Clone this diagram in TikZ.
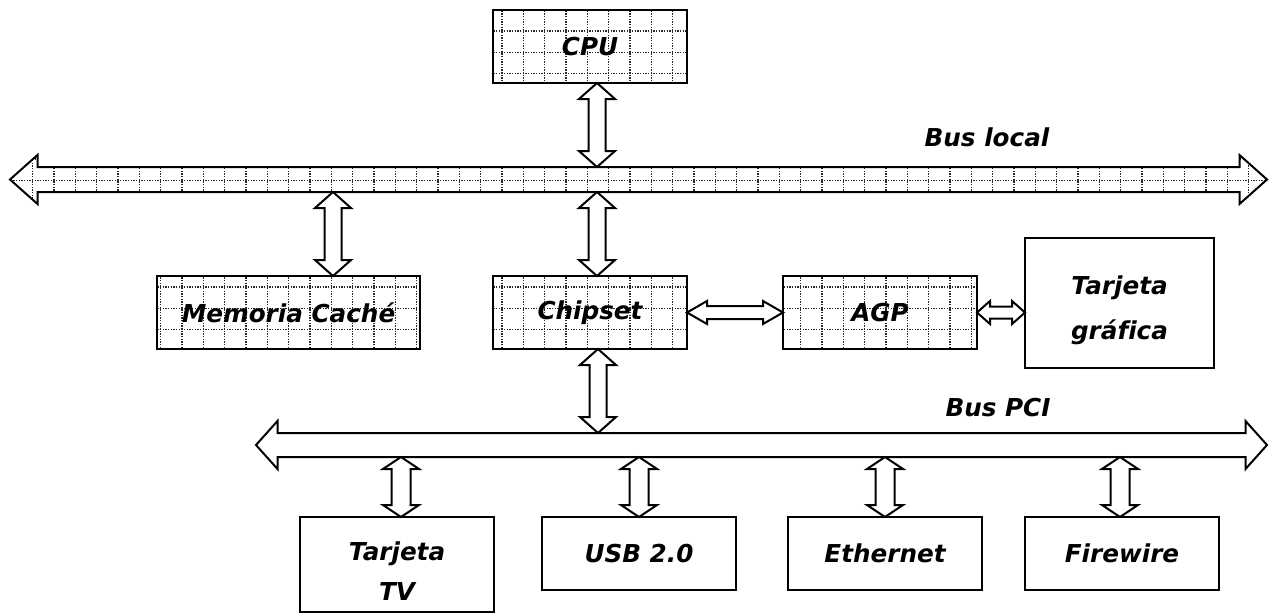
\documentclass[tikz,border=0pt]{standalone}
\usepackage{fontspec}
\setmainfont{DejaVu Sans}[Ligatures=NoCommon]
\usetikzlibrary{calc}
\pgfdeclarelayer{background}
\pgfsetlayers{background,main}

% horizontal block arrow with heads at both ends:
% #1 path command, #2 left tip, #3 right tip, #4 head half-width, #5 shaft half-width, #6 head length
\newcommand\hdarrow[6]{#1 (#2) -- ($(#2)+(#6,-#4)$) -- ($(#2)+(#6,-#5)$) -- ($(#3)+(-#6,-#5)$)
  -- ($(#3)+(-#6,-#4)$) -- (#3) -- ($(#3)+(-#6,#4)$) -- ($(#3)+(-#6,#5)$)
  -- ($(#2)+(#6,#5)$) -- ($(#2)+(#6,#4)$) -- cycle;}
% vertical block arrow with heads at both ends: #2 top tip, #3 bottom tip
\newcommand\vdarrow[6]{#1 (#2) -- ($(#2)+(#4,#6)$) -- ($(#2)+(#5,#6)$) -- ($(#3)+(#5,-#6)$)
  -- ($(#3)+(#4,-#6)$) -- (#3) -- ($(#3)+(-#4,-#6)$) -- ($(#3)+(-#5,-#6)$)
  -- ($(#2)+(-#5,#6)$) -- ($(#2)+(-#4,#6)$) -- cycle;}
% dotted grid fill pattern, anchored to the whole page
\newcommand\dotgrid{%
  \foreach \i in {0,...,59}{\draw[gridline] ({11.4+21.3333*\i},0) -- ({11.4+21.3333*\i},614);}%
  \foreach \j in {0,...,28}{\draw[gridline] (0,{9.7+21.3333*\j}) -- (1269,{9.7+21.3333*\j});}}

\begin{document}
\begin{tikzpicture}[x=0.75pt,y=-0.75pt,
  box/.style={draw, line width=1.5pt, inner sep=0pt, outer sep=0pt, align=center,
    minimum width=145.5pt, minimum height=54.75pt,
    font=\fontsize{18.5}{30}\selectfont\bfseries\itshape},
  lbl/.style={inner sep=0pt, font=\fontsize{18.5}{22}\selectfont\bfseries\itshape},
  blk/.style={draw, fill=white, line width=1.5pt, line join=miter},
  busline/.style={draw, line width=1.5pt, line join=miter},
  gridline/.style={draw=black!85, line width=0.9pt, dash pattern=on 0.9pt off 1.1pt}]

\useasboundingbox (0,0) rectangle (1269,614);

% components
\node[box] (cpu) at (590,46.5) {CPU};
\node[box, minimum width=197.25pt] (cache) at (288.5,312.5) {Memoria Caché};
\node[box] (chip) at (590,312.5) {Chipset};
\node[box] (agp) at (880,312.5) {AGP};
\node[box, minimum width=141.75pt, minimum height=97.5pt, text height=54.5pt, text depth=0pt,
  font=\fontsize{18.5}{33.75}\selectfont\bfseries\itshape] (tg) at (1119.5,303) {Tarjeta\\gráfica};
\node[box, minimum height=71.25pt, text height=54pt, text depth=0pt] (tv) at (397,564.5) {Tarjeta\\TV};
\node[box] (usb) at (639,553.5) {USB 2.0};
\node[box] (eth) at (885,553.5) {Ethernet};
\node[box] (fw) at (1122,553.5) {Firewire};

% bus labels
\node[lbl] (buslocal) at (987,137) {Bus local};
\node[lbl] (buspci) at (998,408) {Bus PCI};

% bus end points and edges
\coordinate (bl-w) at (10,179.5);
\coordinate (bl-e) at (1267,179.5);
\coordinate (bl-n) at (0,167);
\coordinate (bl-s) at (0,192);
\coordinate (pci-w) at (256,445);
\coordinate (pci-e) at (1267,445);
\coordinate (pci-n) at (0,433);
\coordinate (pci-s) at (0,457);

% buses
\hdarrow{\draw[busline]}{bl-w}{bl-e}{24.5}{12.5}{27.5}
\hdarrow{\draw[busline]}{pci-w}{pci-e}{24}{12}{21.5}

% dotted fill of the local bus and the patterned boxes
\begin{pgfonlayer}{background}
  \begin{scope}
    \hdarrow{\clip}{bl-w}{bl-e}{24.5}{12.5}{27.5}
    \dotgrid
  \end{scope}
  \foreach \b in {cpu,cache,chip,agp}{
    \begin{scope}
      \clip (\b.south west) rectangle (\b.north east);
      \dotgrid
    \end{scope}
  }
\end{pgfonlayer}

% connections to the local bus
\coordinate (a-cpu-t) at ($(cpu.south)+(7,0)$);
\coordinate (a-cpu-b) at (a-cpu-t |- bl-n);
\vdarrow{\draw[blk]}{a-cpu-t}{a-cpu-b}{18}{8.5}{16}

\coordinate (a-ca-b) at ($(cache.north)+(44.5,0)$);
\coordinate (a-ca-t) at (a-ca-b |- bl-s);
\vdarrow{\draw[blk]}{a-ca-t}{a-ca-b}{18}{8.5}{16}

\coordinate (a-ch-b) at ($(chip.north)+(7,0)$);
\coordinate (a-ch-t) at (a-ch-b |- bl-s);
\vdarrow{\draw[blk]}{a-ch-t}{a-ch-b}{18}{8.5}{16}

% chipset to PCI bus
\coordinate (a-cd-t) at ($(chip.south)+(8,0)$);
\coordinate (a-cd-b) at (a-cd-t |- pci-n);
\vdarrow{\draw[blk]}{a-cd-t}{a-cd-b}{18}{8.5}{16}

% chipset -- AGP -- graphics card
\hdarrow{\draw[blk]}{chip.east}{agp.west}{11.5}{6.5}{20}
\coordinate (a-tg) at (tg.west |- agp.east);
\hdarrow{\draw[blk]}{agp.east}{a-tg}{11.5}{6}{13}

% PCI devices
\coordinate (a-tv-b) at ($(tv.north)+(4,0)$);
\coordinate (a-tv-t) at (a-tv-b |- pci-s);
\vdarrow{\draw[blk]}{a-tv-t}{a-tv-b}{18}{9.5}{12}

\coordinate (a-usb-t) at (usb.north |- pci-s);
\vdarrow{\draw[blk]}{a-usb-t}{usb.north}{18}{9.5}{12}

\coordinate (a-eth-t) at (eth.north |- pci-s);
\vdarrow{\draw[blk]}{a-eth-t}{eth.north}{18}{9.5}{12}

\coordinate (a-fw-b) at ($(fw.north)+(-2,0)$);
\coordinate (a-fw-t) at (a-fw-b |- pci-s);
\vdarrow{\draw[blk]}{a-fw-t}{a-fw-b}{18}{9.5}{12}

\end{tikzpicture}
\end{document}
